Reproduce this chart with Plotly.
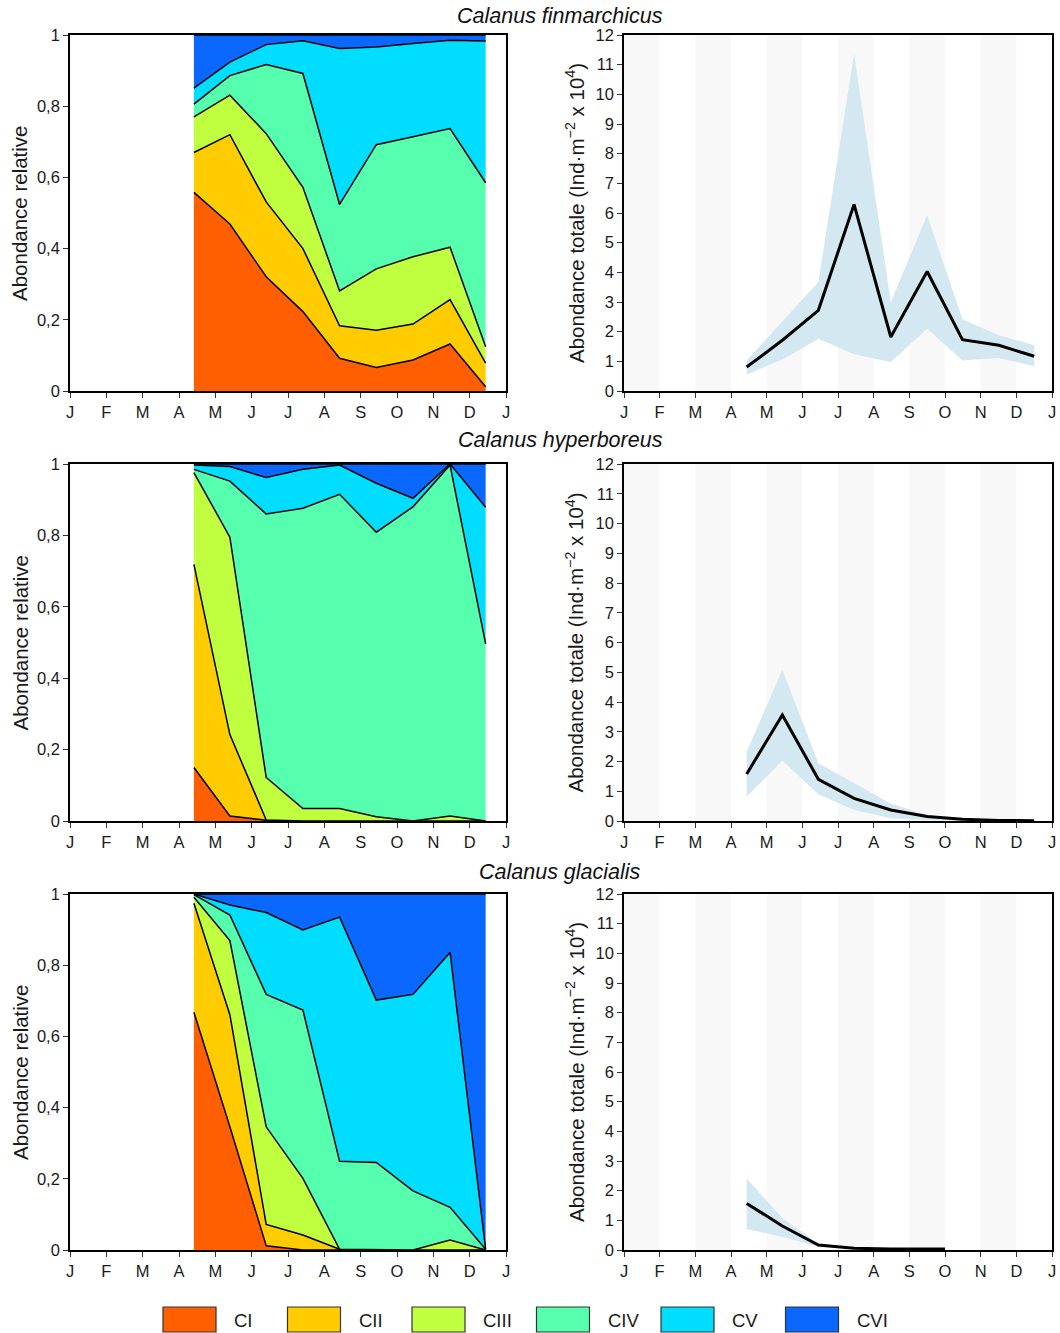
import plotly.graph_objects as go

# ---------------- data ----------------
month_labels = ["J", "F", "M", "A", "M", "J", "J", "A", "S", "O", "N", "D", "J"]
stages = ["CI", "CII", "CIII", "CIV", "CV", "CVI"]
stage_colors = ["#FF5F00", "#FFCC00", "#BFFF3F", "#55FFAE", "#00DDFF", "#0A68FF"]
species = ["Calanus finmarchicus", "Calanus hyperboreus", "Calanus glacialis"]

# sampling dates (fraction of year in months) for relative abundance
months_rel = [3.41, 4.40, 5.40, 6.41, 7.42, 8.43, 9.44, 10.46, 11.44]
# sampling dates for total abundance
months_tot = [3.44, 4.44, 5.45, 6.45, 7.48, 8.50, 9.49, 10.51, 11.50]
months_tot_glacialis = [3.44, 4.44, 5.45, 6.45, 7.48, 8.50, 9.00]

# relative abundance per stage (CI..CVI)
fin_rel = {
    "CI":   [0.558, 0.469, 0.321, 0.223, 0.092, 0.066, 0.087, 0.132, 0.012],
    "CII":  [0.112, 0.251, 0.210, 0.177, 0.091, 0.105, 0.101, 0.125, 0.066],
    "CIII": [0.100, 0.111, 0.192, 0.172, 0.098, 0.172, 0.189, 0.147, 0.046],
    "CIV":  [0.036, 0.055, 0.194, 0.320, 0.243, 0.349, 0.337, 0.333, 0.461],
    "CV":   [0.045, 0.038, 0.056, 0.092, 0.438, 0.274, 0.262, 0.248, 0.398],
    "CVI":  [0.149, 0.076, 0.027, 0.016, 0.038, 0.034, 0.024, 0.015, 0.017],
}
hyp_rel = {
    "CI":   [0.150, 0.014, 0.002, 0.000, 0.000, 0.000, 0.000, 0.000, 0.000],
    "CII":  [0.569, 0.228, 0.001, 0.000, 0.000, 0.000, 0.000, 0.000, 0.000],
    "CIII": [0.257, 0.553, 0.119, 0.035, 0.035, 0.012, 0.000, 0.014, 0.000],
    "CIV":  [0.009, 0.157, 0.738, 0.841, 0.880, 0.797, 0.880, 0.983, 0.496],
    "CV":   [0.012, 0.041, 0.102, 0.109, 0.082, 0.137, 0.024, 0.003, 0.383],
    "CVI":  [0.003, 0.007, 0.038, 0.015, 0.003, 0.054, 0.096, 0.000, 0.121],
}
gla_rel = {
    "CI":   [0.668, 0.346, 0.012, 0.000, 0.000, 0.000, 0.000, 0.000, 0.000],
    "CII":  [0.306, 0.315, 0.060, 0.042, 0.002, 0.000, 0.000, 0.000, 0.000],
    "CIII": [0.017, 0.208, 0.274, 0.159, 0.000, 0.000, 0.000, 0.028, 0.000],
    "CIV":  [0.007, 0.072, 0.372, 0.473, 0.247, 0.246, 0.166, 0.092, 0.002],
    "CV":   [0.002, 0.028, 0.230, 0.225, 0.686, 0.456, 0.552, 0.716, 0.000],
    "CVI":  [0.000, 0.031, 0.052, 0.101, 0.065, 0.298, 0.282, 0.164, 0.998],
}

# total abundance (Ind m-2 x 10^4): mean, upper and lower bounds
fin_tot = [0.81, 1.71, 2.72, 6.29, 1.82, 4.03, 1.73, 1.54, 1.17]
fin_hi = [1.03, 2.33, 3.67, 11.37, 3.00, 5.92, 2.42, 1.88, 1.54]
fin_lo = [0.56, 1.06, 1.76, 1.24, 0.98, 2.10, 1.03, 1.11, 0.84]

hyp_tot = [1.58, 3.56, 1.40, 0.76, 0.37, 0.15, 0.06, 0.02, 0.01]
hyp_hi = [2.33, 5.08, 1.94, 1.27, 0.59, 0.20, 0.07, 0.02, 0.01]
hyp_lo = [0.82, 2.03, 0.90, 0.37, 0.09, 0.03, 0.01, 0.00, 0.00]

gla_tot = [1.57, 0.81, 0.17, 0.06, 0.03, 0.03, 0.03]
gla_hi = [2.42, 1.07, 0.22, 0.08, 0.04, 0.04, 0.04]
gla_lo = [0.70, 0.45, 0.11, 0.03, 0.02, 0.02, 0.02]

rel_ticks = [0, 0.2, 0.4, 0.6, 0.8, 1]
rel_ticktext = ["0", "0,2", "0,4", "0,6", "0,8", "1"]
tot_ticks = list(range(0, 13))
rel_title = "Abondance relative"
tot_title = "Abondance totale (Ind·m<sup>−2</sup> x 10<sup>4</sup>)"

# ---------------- layout geometry ----------------
W, H = 1060, 1333
FONT = "Arial, 'Liberation Sans', sans-serif"
TXT = "#1a1a1a"
col_px = [(70, 506), (624, 1052)]
row_px = [(35, 391), (464, 821), (894, 1250)]
title_y_px = [16, 440, 872]
ytitle_x_px = [20, 575]

fig = go.Figure()

rel_sets = [fin_rel, hyp_rel, gla_rel]
tot_sets = [
    (months_tot, fin_tot, fin_hi, fin_lo),
    (months_tot, hyp_tot, hyp_hi, hyp_lo),
    (months_tot_glacialis, gla_tot, gla_hi, gla_lo),
]

axis_common = dict(
    showline=True, mirror=True, linecolor="black", linewidth=1.7,
    ticks="outside", ticklen=5, tickwidth=1.3, tickcolor="#333",
    showgrid=False, zeroline=False, automargin=False,
    tickfont=dict(family=FONT, size=16.5, color=TXT),
)

shapes = []
annotations = []

for r in range(3):
    xl = f"x{2*r+1}" if r > 0 else "x"
    yl = f"y{2*r+1}" if r > 0 else "y"
    xr = f"x{2*r+2}"
    yr = f"y{2*r+2}"
    # stacked relative abundance
    for s, c in zip(stages, stage_colors):
        fig.add_trace(go.Scatter(
            x=months_rel, y=rel_sets[r][s], mode="lines",
            stackgroup=f"g{r}", fillcolor=c,
            line=dict(color="black", width=1.5),
            name=s, showlegend=False, xaxis=xl, yaxis=yl,
        ))
    # total abundance band + mean line
    mx, mean, hi, lo = tot_sets[r]
    fig.add_trace(go.Scatter(x=mx, y=hi, mode="lines", line=dict(width=0),
                             showlegend=False, xaxis=xr, yaxis=yr))
    fig.add_trace(go.Scatter(x=mx, y=lo, mode="lines", line=dict(width=0),
                             fill="tonexty", fillcolor="#D3E8F0",
                             showlegend=False, xaxis=xr, yaxis=yr))
    fig.add_trace(go.Scatter(x=mx, y=mean, mode="lines",
                             line=dict(color="black", width=3),
                             showlegend=False, xaxis=xr, yaxis=yr))

    y0 = 1 - row_px[r][1] / H
    y1 = 1 - row_px[r][0] / H
    for ci, (ax_x, ax_y) in enumerate([(xl, yl), (xr, yr)]):
        xkey = "xaxis" if ax_x == "x" else "xaxis" + ax_x[1:]
        ykey = "yaxis" if ax_y == "y" else "yaxis" + ax_y[1:]
        fig.layout[xkey] = dict(
            domain=[col_px[ci][0] / W, col_px[ci][1] / W],
            anchor=ax_y, range=[0, 12], tickmode="array",
            tickvals=list(range(13)), ticktext=month_labels, **axis_common)
        if ci == 0:
            fig.layout[ykey] = dict(
                domain=[y0, y1], anchor=ax_x, range=[0, 1],
                tickmode="array", tickvals=rel_ticks, ticktext=rel_ticktext,
                **axis_common)
        else:
            fig.layout[ykey] = dict(
                domain=[y0, y1], anchor=ax_x, range=[0, 12],
                tickmode="array", tickvals=tot_ticks, **axis_common)
        annotations.append(dict(
            text=rel_title if ci == 0 else tot_title,
            xref="paper", yref="paper", x=ytitle_x_px[ci] / W, y=(y0 + y1) / 2,
            textangle=-90, showarrow=False, xanchor="center", yanchor="middle",
            font=dict(family=FONT, size=20.5, color=TXT)))
    # alternate month stripes on total-abundance panels
    for m in range(0, 12, 2):
        shapes.append(dict(type="rect", xref=xr, yref=yr, x0=m, x1=m + 1,
                           y0=0, y1=12, fillcolor="#F8F8F9", line=dict(width=0),
                           layer="below"))
    annotations.append(dict(text=f"<i>{species[r]}</i>", xref="paper", yref="paper",
                            x=560 / W, y=1 - title_y_px[r] / H, showarrow=False,
                            xanchor="center", yanchor="middle",
                            font=dict(family=FONT, size=21.5, color="#111")))

# legend boxes
leg_x0 = 163
leg_step = 124.5
for i, (s, c) in enumerate(zip(stages, stage_colors)):
    bx = leg_x0 + i * leg_step
    shapes.append(dict(type="rect", xref="paper", yref="paper",
                       x0=bx / W, x1=(bx + 53) / W,
                       y0=1 - 1332 / H, y1=1 - 1307 / H,
                       fillcolor=c, line=dict(color="#333", width=1.2)))
    annotations.append(dict(text=s, xref="paper", yref="paper",
                            x=(bx + 69) / W, y=1 - 1320 / H, showarrow=False,
                            xanchor="left", yanchor="middle",
                            font=dict(family=FONT, size=18.5, color=TXT)))

fig.update_layout(
    width=W, height=H, margin=dict(l=0, r=0, t=0, b=0),
    paper_bgcolor="white", plot_bgcolor="white",
    shapes=shapes, annotations=annotations, showlegend=False,
    font=dict(family=FONT),
)

fig.write_html(
    "out.html",
    config={"displayModeBar": False},
    post_script="document.body.style.margin='0';document.body.style.overflow='hidden';",
)
